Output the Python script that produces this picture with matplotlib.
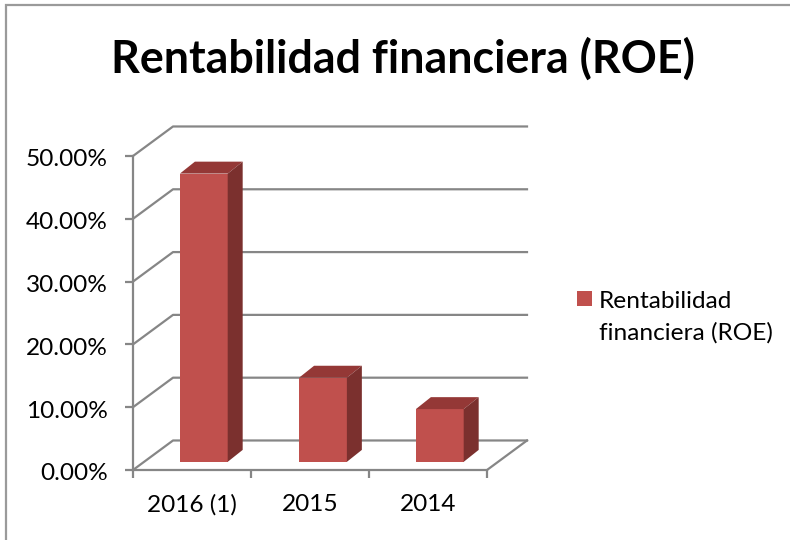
import matplotlib
matplotlib.use("Agg")
import matplotlib.pyplot as plt
from matplotlib.patches import Polygon, Rectangle
from matplotlib.transforms import ScaledTranslation

plt.rcParams["font.family"] = ["Lato", "DejaVu Sans"]

# Datos
categorias = ["2016 (1)", "2015", "2014"]
valores = [45.9, 13.4, 8.4]
ticks_y = [0, 10, 20, 30, 40, 50]
etiquetas_y = ["0.00%", "10.00%", "20.00%", "30.00%", "40.00%", "50.00%"]
serie = "Rentabilidad\nfinanciera (ROE)"
titulo = "Rentabilidad financiera (ROE)"

gris = "#868686"
rojo = "#C0504D"
rojo_top = "#943836"
rojo_lado = "#7B302E"

# Profundidad falsa del 3D, en unidades de datos
fondo_x, fondo_y = 0.339, 4.7
barra_x, barra_y = 0.127, 1.9
base = 1.3
centros = [0.60, 1.61, 2.60]
ancho = 0.405

W, H = 790, 540
fig = plt.figure(figsize=(W / 100, H / 100), dpi=100)
fig.add_artist(Rectangle((6 / W, -0.01), 1.1, 1 - 5 / H + 0.01, transform=fig.transFigure,
                         facecolor="white", edgecolor="#9a9a9a", linewidth=1.6, zorder=-1))

# El eje coincide con la pared frontal
ax = fig.add_axes([133 / W, 1 - 470 / H, 354 / W, 314 / H])
ax.set_xlim(0, 3)
ax.set_ylim(0, 50)
ax.patch.set_visible(False)
for lado in ["top", "right"]:
    ax.spines[lado].set_visible(False)
for lado in ["left", "bottom"]:
    ax.spines[lado].set_color(gris)
    ax.spines[lado].set_linewidth(1.6)

# Rejilla del fondo y diagonales de la pared izquierda
for t in ticks_y:
    ax.plot([0, fondo_x, 3 + fondo_x], [t, t + fondo_y, t + fondo_y], color=gris, lw=1.6,
            clip_on=False, zorder=1, solid_joinstyle="round")
ax.plot([3, 3 + fondo_x], [0, fondo_y], color=gris, lw=1.6, clip_on=False, zorder=1)

# Barras: cara frontal con bar, tapa y lateral con polígonos
ax.bar(centros, valores, width=ancho, bottom=base, color=rojo, zorder=3, label=serie)
for c, v in zip(centros, valores):
    x0, x1 = c - ancho / 2, c + ancho / 2
    y0, y1 = base, base + v
    ax.add_patch(Polygon([(x0, y1), (x1, y1), (x1 + barra_x, y1 + barra_y), (x0 + barra_x, y1 + barra_y)],
                         facecolor=rojo_top, edgecolor="none", zorder=3, clip_on=False))
    ax.add_patch(Polygon([(x1, y0), (x1 + barra_x, y0 + barra_y), (x1 + barra_x, y1 + barra_y), (x1, y1)],
                         facecolor=rojo_lado, edgecolor="none", zorder=3, clip_on=False))

# Ticks
ax.set_yticks(ticks_y)
ax.set_yticklabels(etiquetas_y)
ax.set_xticks([0, 1, 2, 3])
ax.set_xticklabels([])
ax.set_xticks([0.5, 1.5, 2.5], categorias, minor=True)
ax.tick_params(axis="y", length=6, width=1.6, color=gris, labelsize=17.6, pad=12, labelcolor="black")
ax.tick_params(axis="x", which="major", length=6, width=1.6, color=gris)
ax.tick_params(axis="x", which="minor", length=0, labelsize=17.6, pad=17, labelcolor="black")
# las etiquetas del eje y van un poco mas abajo
for etiqueta in ax.get_yticklabels():
    etiqueta.set_transform(etiqueta.get_transform() + ScaledTranslation(0, -2 / 100, fig.dpi_scale_trans))

fig.text(403 / W, 1 - 59 / H, titulo, ha="center", va="center", fontsize=32.2, fontweight="bold", color="black")

leg = fig.legend(loc="center left", bbox_to_anchor=(577 / W, 1 - 317 / H), frameon=False, fontsize=17.6,
                 handlelength=0.61, handleheight=0.57, handletextpad=0.28, borderpad=0, labelspacing=0,
                 borderaxespad=0)
leg.get_texts()[0].set_linespacing(1.59)
cuadro = leg.legend_handles[0]
cuadro.set_y(cuadro.get_y() + 13.5)

fig.savefig("out.png", dpi=100, facecolor="white")
